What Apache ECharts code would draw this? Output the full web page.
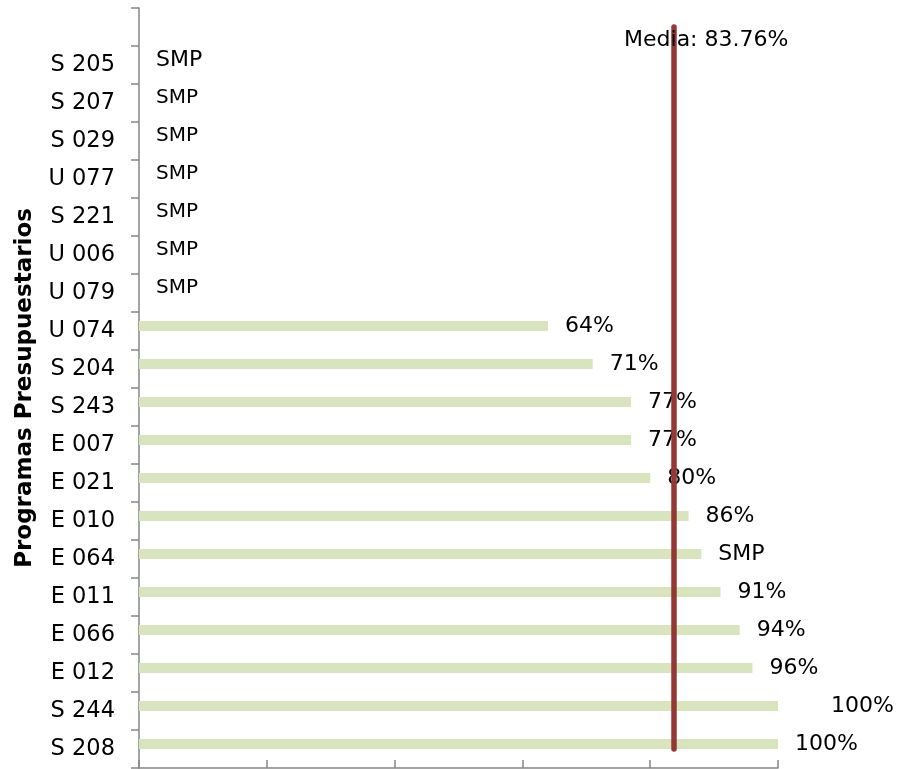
<!DOCTYPE html>
<html>
<head>
<meta charset="utf-8">
<script src="https://cdn.jsdelivr.net/npm/echarts@6/dist/echarts.min.js"></script>
<style>html,body{margin:0;padding:0;background:#fff}#c{width:900px;height:769px}</style>
</head>
<body>
<div id="c"></div>
<script>
// bottom to top
const categories = ['S 208','S 244','E 012','E 066','E 011','E 064','E 010','E 021','E 007','S 243','S 204','U 074','U 079','U 006','S 221','U 077','S 029','S 207','S 205',''];
const values = [100,100,96,94,91,88,86,80,77,77,71,64,0,0,0,0,0,0,0,null];
const labelTexts = ['100%','100%','96%','94%','91%','SMP','86%','80%','77%','77%','71%','64%','SMP','SMP','SMP','SMP','SMP','SMP','SMP',''];
const meanValue = 83.76;
const meanLabel = 'Media: 83.76%';
const xTicks = [0,20,40,60,80,100];

const FONT = 'DejaVu Sans';
const chart = echarts.init(document.getElementById('c'), null, {renderer:'canvas'});

const barData = values.map((v, i) => {
  const item = {value: v, label: {formatter: labelTexts[i]}};
  if (i === 1) item.label.distance = 53;
  if (i >= 12 && i <= 17) item.label.fontSize = 20;
  return item;
});

chart.setOption({
  animation: false,
  grid: {left: 139, right: 122, top: 8, bottom: 1, containLabel: false},
  xAxis: {
    type: 'value', min: xTicks[0], max: xTicks[xTicks.length-1], interval: 20,
    axisLine: {show: true, lineStyle: {color: '#868686', width: 1.5}},
    axisTick: {show: true, inside: true, length: 8, lineStyle: {color: '#868686', width: 1.5}},
    axisLabel: {show: false},
    splitLine: {show: false}
  },
  yAxis: {
    type: 'category', data: categories,
    name: 'Programas Presupuestarios', nameLocation: 'middle', nameGap: 102, nameRotate: 90,
    nameTextStyle: {fontFamily: FONT, fontSize: 23, fontWeight: 'bold', color: '#000'},
    axisLine: {show: true, lineStyle: {color: '#868686', width: 1.5}},
    axisTick: {show: true, length: 8, alignWithLabel: false, lineStyle: {color: '#868686', width: 1.5}},
    axisLabel: {fontFamily: FONT, fontSize: 22.5, color: '#000', margin: 24, interval: 0},
    splitLine: {show: false}
  },
  series: [
    {
      type: 'bar', data: barData, barWidth: 10, barGap: '0%',
      itemStyle: {color: '#d7e4bd'},
      label: {show: true, position: 'right', distance: 17, fontFamily: FONT, fontSize: 22, color: '#000'},
      z: 2
    },
    {
      type: 'bar', data: values.map(() => null), barWidth: 10, barGap: '0%', silent: true
    },
    {
      type: 'line', data: [], silent: true, z: 5,
      markLine: {
        silent: true, symbol: ['none','none'],
        lineStyle: {color: '#953735', width: 5.5, type: 'solid', cap: 'round'},
        label: {show: false},
        data: [[{coord: [meanValue, 0]}, {coord: [meanValue, categories.length - 1]}]]
      },
      markPoint: {
        silent: true, symbol: 'circle', symbolSize: 0,
        label: {show: true, formatter: meanLabel, fontFamily: FONT, fontSize: 22, color: '#000', position: 'inside', offset: [32, 13]},
        data: [{coord: [meanValue, categories.length - 1]}]
      }
    }
  ]
});
</script>
</body>
</html>
